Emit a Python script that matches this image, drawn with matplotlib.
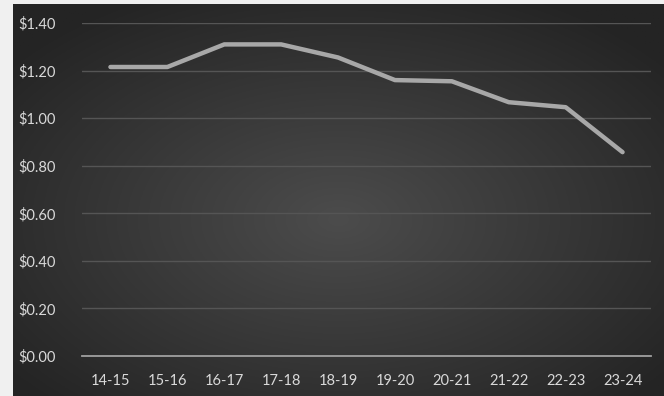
import numpy as np
import matplotlib.pyplot as plt

# data
seasons = ['14-15', '15-16', '16-17', '17-18', '18-19', '19-20', '20-21', '21-22', '22-23', '23-24']
price = [1.215, 1.215, 1.31, 1.31, 1.255, 1.16, 1.155, 1.067, 1.046, 0.857]
yticks = [0.0, 0.2, 0.4, 0.6, 0.8, 1.0, 1.2, 1.4]

W, H = 664, 396
fig = plt.figure(figsize=(W / 100, H / 100), dpi=100, facecolor='#f0f0f0')

# dark radial gradient background
bg = fig.add_axes([13 / W, 0, (W - 13) / W, (H - 4) / H])
bg.set_axis_off()
gx, gy = np.meshgrid(np.linspace(-1, 1, 400), np.linspace(-1, 1, 240))
r = np.clip(np.sqrt(gx ** 2 + (gy - 0.1) ** 2) / 1.3, 0, 1)
shade = 0x4c / 255 * (1 - r) + 0x24 / 255 * r
bg.imshow(np.dstack([shade] * 3), aspect='auto', extent=[0, 1, 0, 1])

# plot area
ax = fig.add_axes([82 / W, (H - 356) / H, (651 - 82) / W, (356 - 23) / H])
ax.patch.set_alpha(0)
x = np.arange(len(seasons))
ax.plot(x, price, color='#a8a8a8', lw=3.2, solid_capstyle='round', solid_joinstyle='round', zorder=3)

ax.set_xlim(-0.5, len(seasons) - 0.5)
ax.set_ylim(0, 1.4)
ax.set_yticks(yticks)
ax.set_yticklabels(['${:.2f}'.format(v) for v in yticks])
ax.set_xticks(x)
ax.set_xticklabels(seasons)
ax.grid(axis='y', color='#555555', lw=1)
ax.set_axisbelow(True)
for s in ['top', 'right', 'left']:
    ax.spines[s].set_visible(False)
ax.spines['bottom'].set_color('#a0a0a0')
ax.spines['bottom'].set_linewidth(1.3)
ax.tick_params(length=0, colors='#d9d9d9', labelsize=10.5)
ax.tick_params(axis='y', pad=19)
ax.tick_params(axis='x', pad=13)
for lbl in ax.get_xticklabels() + ax.get_yticklabels():
    lbl.set_fontfamily('Lato')

fig.savefig('out.png', dpi=100, facecolor=fig.get_facecolor())
